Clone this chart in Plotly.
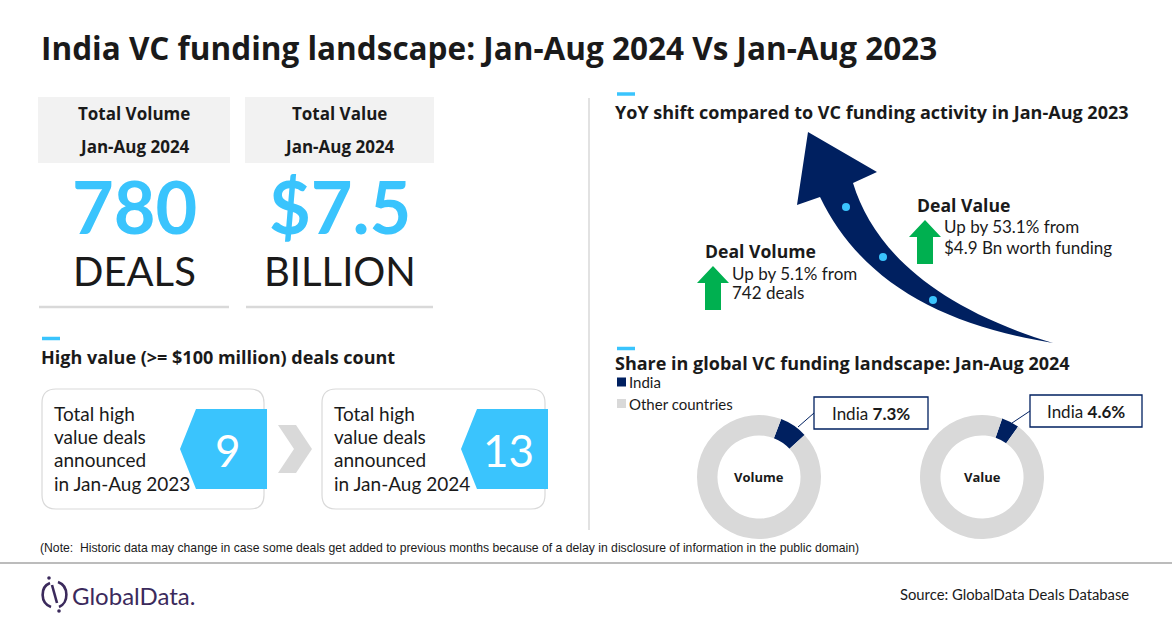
import plotly.graph_objects as go

W, H = 1172, 628
FONT = "Lato"
BOLD_FONT = "Open Sans"
NAVY = "#002060"
CYAN = "#3AC4FD"
GREEN = "#00B050"
LIGHT = "#D9D9D9"
BOX = "#F2F2F2"
INK = "#1A1A1A"

# headline numbers
period_now = "Jan-Aug 2024"
period_prev = "Jan-Aug 2023"
total_deals = 780
total_value_bn = 7.5

# high value (>= $100m) deals count
high_value_periods = [period_prev, period_now]
high_value_counts = [9, 13]

# yoy shift
yoy_metrics = ["Deal Volume", "Deal Value"]
yoy_change_pct = [5.1, 53.1]
yoy_base_text = ["742 deals", "$4.9 Bn worth funding"]

# share in global VC funding (India vs rest)
share_labels = ["India", "Other countries"]
volume_share = [7.3, 92.7]
value_share = [4.6, 95.4]
share_colors = [NAVY, LIGHT]


# everything is laid out in page pixels and converted to paper coords
def fx(x):
    return x / W


def fy(y):
    return 1 - y / H


def pt(x, y):
    return f"{fx(x):.5f},{fy(y):.5f}"


def poly(points):
    return "M " + " L ".join(pt(x, y) for x, y in points) + " Z"


def rounded_rect(x0, y0, x1, y1, r):
    return ("M " + pt(x0 + r, y0) + " L " + pt(x1 - r, y0)
            + " Q " + pt(x1, y0) + " " + pt(x1, y0 + r)
            + " L " + pt(x1, y1 - r) + " Q " + pt(x1, y1) + " " + pt(x1 - r, y1)
            + " L " + pt(x0 + r, y1) + " Q " + pt(x0, y1) + " " + pt(x0, y1 - r)
            + " L " + pt(x0, y0 + r) + " Q " + pt(x0, y0) + " " + pt(x0 + r, y0) + " Z")


fig = go.Figure()


def path(d, fill=None, line_color=None, line_width=0):
    fig.add_shape(type="path", path=d, xref="paper", yref="paper",
                  fillcolor=fill, line=dict(color=line_color or "rgba(0,0,0,0)", width=line_width))


def rect(x0, y0, x1, y1, fill=None, line_color=None, line_width=0):
    fig.add_shape(type="rect", xref="paper", yref="paper",
                  x0=fx(x0), x1=fx(x1), y0=fy(y1), y1=fy(y0),
                  fillcolor=fill, line=dict(color=line_color or "rgba(0,0,0,0)", width=line_width))


def line(x0, y0, x1, y1, color, width):
    fig.add_shape(type="line", xref="paper", yref="paper",
                  x0=fx(x0), x1=fx(x1), y0=fy(y0), y1=fy(y1),
                  line=dict(color=color, width=width))


def dot(x, y, r, color):
    fig.add_shape(type="circle", xref="paper", yref="paper",
                  x0=fx(x - r), x1=fx(x + r), y0=fy(y + r), y1=fy(y - r),
                  fillcolor=color, line=dict(width=0))


def label(x, y, text, size, color=INK, bold=False, xanchor="left", family=None):
    if family is None:
        family = BOLD_FONT if bold else FONT
    fig.add_annotation(x=fx(x), y=fy(y), xref="paper", yref="paper", text=text,
                       showarrow=False, xanchor=xanchor, yanchor="middle",
                       font=dict(family=family, size=size, color=color,
                                 weight="bold" if bold else "normal"))


def green_up(cx, top, base, bottom):
    path(poly([(cx, top), (cx + 16, base), (cx + 8, base), (cx + 8, bottom),
               (cx - 8, bottom), (cx - 8, base), (cx - 16, base)]), fill=GREEN)


# ---- title
label(39, 48, "India VC funding landscape: Jan-Aug 2024 Vs Jan-Aug 2023", 31.5, bold=True)

# ---- KPI tiles
kpis = [(38, 230, "Total Volume", f"{total_deals}", "DEALS"),
        (245, 434, "Total Value", f"${total_value_bn}", "BILLION")]
for x0, x1, head, big, unit in kpis:
    cx = (x0 + x1) / 2
    rect(x0, 97, x1, 163, fill=BOX)
    label(cx, 113, head, 17, bold=True, xanchor="center")
    label(cx, 146, period_now, 17, bold=True, xanchor="center")
    label(cx, 206, big, 72, color=CYAN, bold=True, xanchor="center", family=FONT)
    label(cx, 271, unit, 40, xanchor="center")
    line(x0 + 1, 307, x1 - 1, 307, LIGHT, 2.5)

# divider
line(589, 98, 589, 530, LIGHT, 1.5)

# ---- high value deals
line(42, 338.5, 60, 338.5, CYAN, 3.5)
label(39, 357, "High value (&gt;= $100 million) deals count", 18, bold=True)

boxes = [(42, 264, 180, 196, 267), (322, 545, 461, 477, 548)]
for (bx0, bx1, hx0, hx1, hx2), period, count in zip(boxes, high_value_periods, high_value_counts):
    path(rounded_rect(bx0, 389, bx1, 509, 14), fill="white", line_color=LIGHT, line_width=1.2)
    path(poly([(hx0, 449), (hx1, 409), (hx2, 409), (hx2, 489), (hx1, 489)]), fill=CYAN)
    label((hx1 + hx2) / 2 - 4, 450, str(count), 44, color="white", xanchor="center")
    for i, t in enumerate(["Total high", "value deals", "announced", "in " + period]):
        label(bx0 + 10, 413 + i * 23.5, t, 19)

# chevron between the two boxes
path(poly([(278, 425), (296, 425), (312, 449), (296, 473), (278, 473), (294, 449)]), fill=LIGHT)

# ---- YoY shift
line(617, 94, 635, 94, CYAN, 3.5)
label(613, 112, "YoY shift compared to VC funding activity in Jan-Aug 2023", 18, bold=True)

arrow = ("M " + pt(808, 132) + " L " + pt(877, 172) + " L " + pt(853, 183)
         + " C " + pt(872, 245) + " " + pt(928, 305) + " " + pt(1053, 343)
         + " C " + pt(940, 325) + " " + pt(860, 280) + " " + pt(820, 197)
         + " L " + pt(797, 205) + " Z")
path(arrow, fill=NAVY)
for x, y in [(846, 207), (883, 257), (933, 300)]:
    dot(x, y, 4, CYAN)

yoy_layout = [(703, 251, 713, 266, 730, 273), (915, 205, 925, 220, 942, 227)]
for (tx, ty, ax, atop, sx, sy), metric, pct, base in zip(yoy_layout, yoy_metrics, yoy_change_pct, yoy_base_text):
    label(tx, ty, metric, 17.6, bold=True)
    green_up(ax, atop, atop + 17, atop + 44)
    label(sx, sy, f"Up by {pct}% from", 17)
    label(sx, sy + 20, base, 17)

# ---- global share donuts
line(617, 348.5, 635, 348.5, CYAN, 3.5)
label(613, 363, "Share in global VC funding landscape: Jan-Aug 2024", 18, bold=True)

# small legend
for i, (name, col) in enumerate(zip(share_labels, share_colors)):
    ly = 382 + i * 21.5
    rect(617, ly - 4.5, 626, ly + 4.5, fill=col)
    label(627, ly, name, 15)

R = 62
donuts = [(volume_share, 759, 477, 21, "Volume", (798, 427, 814, 413), (814, 397, 928, 429)),
          (value_share, 982, 477, 19, "Value", (1012, 423, 1030, 411), (1030, 395, 1142, 427))]
for share, cx, cy, rot, name, lead, box in donuts:
    fig.add_trace(go.Pie(
        labels=share_labels, values=share, sort=False, direction="clockwise", rotation=rot,
        hole=0.67, marker=dict(colors=share_colors, line=dict(width=0)),
        textinfo="none", hoverinfo="label+percent", showlegend=False, name=name,
        domain=dict(x=[fx(cx - R), fx(cx + R)], y=[fy(cy + R), fy(cy - R)]),
    ))
    label(cx, cy, name, 13, bold=True, xanchor="center")
    line(*lead, NAVY, 1)
    rect(*box, fill="white", line_color=NAVY, line_width=1.3)
    label((box[0] + box[2]) / 2, (box[1] + box[3]) / 2,
          f"{share_labels[0]} <b>{share[0]}%</b>", 17, xanchor="center")

# ---- footer
label(38, 548, "(Note:  Historic data may change in case some deals get added to previous months "
      "because of a delay in disclosure of information in the public domain)", 12.2,
      family="Liberation Sans Narrow, Arial Narrow, sans-serif")
line(0, 563, W, 563, "#A6A6A6", 1.5)

# logo mark: broken ring with a slash and two dots
LOGO = "#3B2A5C"
path("M " + pt(50, 583) + " C " + pt(40, 587) + " " + pt(40, 603) + " " + pt(51, 607),
     line_color=LOGO, line_width=2.6)
path("M " + pt(58, 582) + " C " + pt(69, 586) + " " + pt(69, 603) + " " + pt(59, 607),
     line_color=LOGO, line_width=2.6)
line(52, 585, 57, 603, LOGO, 2.6)
dot(49, 578, 1.8, LOGO)
dot(59, 611, 1.8, LOGO)
label(70, 595, "GlobalData.", 24, color=LOGO)
label(1131, 594, "Source: GlobalData Deals Database", 14.8, xanchor="right")

fig.update_layout(
    width=W, height=H, margin=dict(l=0, r=0, t=0, b=0),
    paper_bgcolor="white", plot_bgcolor="white",
    showlegend=False,
)

# drop the default body margin so the page pixels line up with the figure
fig.write_html("out.html", config={"displayModeBar": False},
               post_script="document.body.style.margin='0';")
